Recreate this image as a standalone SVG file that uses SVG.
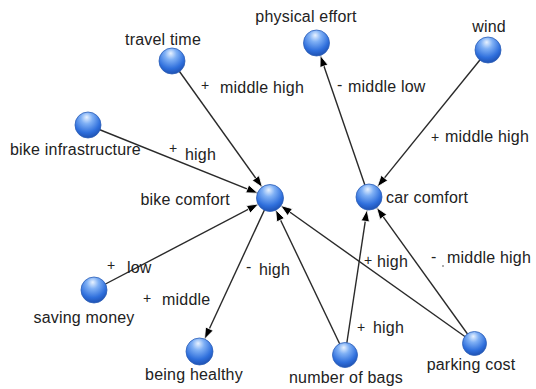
<svg xmlns="http://www.w3.org/2000/svg" width="536" height="389" viewBox="0 0 536 389">
<defs>
<radialGradient id="ball" cx="0.45" cy="0.3" r="0.75" fx="0.45" fy="0.2">
<stop offset="0" stop-color="#e8f2ff"/>
<stop offset="0.3" stop-color="#7fb0f5"/>
<stop offset="0.7" stop-color="#2f6fdc"/>
<stop offset="1" stop-color="#1a4aa8"/>
</radialGradient>
<marker id="arr" markerUnits="userSpaceOnUse" markerWidth="14" markerHeight="11" refX="12" refY="5" orient="auto">
<path d="M0.5,0.8 L12,5 L0.5,9.2 z" fill="#000" stroke="#fff" stroke-width="0.8"/>
</marker>
</defs>
<style>
text{font-family:"Liberation Sans",Arial,sans-serif;font-size:16px;letter-spacing:0.2px;fill:#222}
.sym{font-size:14px;letter-spacing:0}
.edge{stroke:#2a2a2a;stroke-width:1.4;fill:none;marker-end:url(#arr)}
.node circle{fill:url(#ball);stroke:#2d5fb8;stroke-width:0.8}
</style>
<rect width="536" height="389" fill="#fff"/>
<g id="connectors">
<line class="edge" x1="172" y1="61" x2="262.4" y2="187.4"/>
<line class="edge" x1="88" y1="125" x2="257.9" y2="193.2"/>
<line class="edge" x1="94" y1="290" x2="258.5" y2="204"/>
<line class="edge" x1="345" y1="355" x2="275.6" y2="209.7"/>
<line class="edge" x1="474" y1="343" x2="280.6" y2="205.5"/>
<line class="edge" x1="270" y1="198" x2="204.5" y2="339.2"/>
<line class="edge" x1="369" y1="197" x2="320.2" y2="55.3"/>
<line class="edge" x1="488" y1="50" x2="377.2" y2="186.9"/>
<line class="edge" x1="345" y1="355" x2="367" y2="209.9"/>
<line class="edge" x1="474" y1="343" x2="376.6" y2="207.6"/>
</g>
<g id="edge-labels">
<text class="sym" x="201" y="90">+</text><text x="220" y="93">middle high</text>
<text x="337" y="90">-</text><text x="348" y="92">middle low</text>
<text class="sym" x="431" y="142">+</text><text x="445" y="142">middle high</text>
<text class="sym" x="169" y="153">+</text><text x="185" y="160">high</text>
<text class="sym" x="107" y="270">+</text><text x="127" y="273">low</text>
<text class="sym" x="143" y="303">+</text><text x="162" y="305">middle</text>
<text x="246" y="272">-</text><text x="259" y="275">high</text>
<text class="sym" x="364" y="265">+</text><text x="377" y="267">high</text>
<text x="431" y="262">-</text><circle cx="443" cy="266" r="0.8" fill="#444"/><text x="447" y="263">middle high</text>
<text class="sym" x="357" y="332">+</text><text x="373" y="333">high</text>
</g>
<g id="travel-time" class="node"><circle cx="172" cy="61" r="13"/><text x="163" y="45" text-anchor="middle">travel time</text></g>
<g id="physical-effort" class="node"><circle cx="316.5" cy="43" r="13"/><text x="306" y="22" text-anchor="middle">physical effort</text></g>
<g id="wind" class="node"><circle cx="488" cy="50" r="13"/><text x="489" y="32" text-anchor="middle">wind</text></g>
<g id="bike-infrastructure" class="node"><circle cx="88" cy="125" r="13"/><text x="10" y="155">bike infrastructure</text></g>
<g id="bike-comfort" class="node"><circle cx="270" cy="198" r="13.5"/><text x="230" y="205" text-anchor="end">bike comfort</text></g>
<g id="car-comfort" class="node"><circle cx="369" cy="197" r="13"/><text x="386" y="203">car comfort</text></g>
<g id="saving-money" class="node"><circle cx="94" cy="290" r="13"/><text x="84" y="323" text-anchor="middle">saving money</text></g>
<g id="being-healthy" class="node"><circle cx="199.5" cy="351.5" r="13.5"/><text x="194" y="380" text-anchor="middle">being healthy</text></g>
<g id="number-of-bags" class="node"><circle cx="345" cy="355" r="12.5"/><text x="346" y="383" text-anchor="middle">number of bags</text></g>
<g id="parking-cost" class="node"><circle cx="474.5" cy="343.5" r="12"/><text x="471" y="370" text-anchor="middle">parking cost</text></g>
</svg>
